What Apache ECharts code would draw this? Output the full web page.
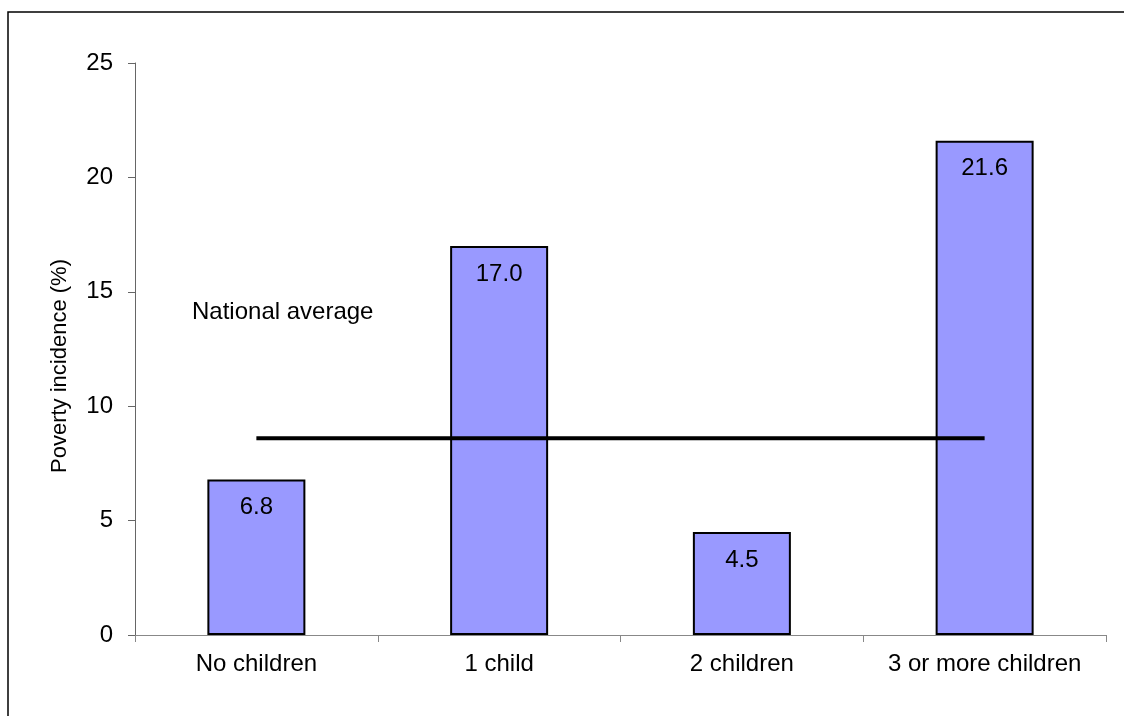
<!DOCTYPE html>
<html>
<head>
<meta charset="utf-8">
<script src="https://cdn.jsdelivr.net/npm/echarts@6/dist/echarts.min.js"></script>
<style>
  html, body { margin: 0; padding: 0; background: #fff; }
  #chart { width: 1124px; height: 716px; }
</style>
</head>
<body>
<div id="chart"></div>
<script>
const categories = ['No children', '1 child', '2 children', '3 or more children'];
const incidence = [6.8, 17.0, 4.5, 21.6];
const nationalAvg = [8.6, 8.6, 8.6, 8.6];
const yTicks = [0, 5, 10, 15, 20, 25];

const font = 'Liberation Sans, Arial, sans-serif';
const chart = echarts.init(document.getElementById('chart'));

const option = {
    backgroundColor: '#fff',
    animation: false,
    textStyle: { fontFamily: font },
    grid: { left: 135, right: 18, top: 63, bottom: 81 },
    graphic: [
        {
            type: 'rect',
            shape: { x: 8, y: 12, width: 1300, height: 900 },
            style: { fill: null, stroke: '#000', lineWidth: 1.5 },
            silent: true
        },
        {
            type: 'text',
            x: 192, y: 312,
            style: { text: 'National average', fontSize: 24, fill: '#000', fontFamily: font,
                     textAlign: 'left', textVerticalAlign: 'middle' }
        },
        {
            // y axis title
            type: 'text',
            x: 60, y: 366,
            rotation: Math.PI / 2,
            style: { text: 'Poverty incidence (%)', fontSize: 22, fill: '#000', fontFamily: font,
                     textAlign: 'center', textVerticalAlign: 'middle' }
        }
    ],
    xAxis: {
        type: 'category',
        data: categories,
        axisLine: { lineStyle: { color: '#888', width: 1 } },
        axisTick: { show: true, interval: 0, length: 7, lineStyle: { color: '#888' } },
        axisLabel: { color: '#000', fontSize: 24, margin: 17, interval: 0 },
        splitLine: { show: false }
    },
    yAxis: {
        type: 'value',
        min: yTicks[0],
        max: yTicks[yTicks.length - 1],
        interval: 5,
        axisLine: { show: true, lineStyle: { color: '#666', width: 1 } },
        axisTick: { show: true, length: 7, lineStyle: { color: '#666' } },
        axisLabel: { color: '#000', fontSize: 24, margin: 22 },
        splitLine: { show: false }
    },
    series: [
        {
            name: 'Poverty incidence',
            type: 'bar',
            data: incidence,
            barWidth: 98,
            itemStyle: { color: '#9999FF', borderColor: '#000', borderWidth: 2 },
            label: {
                show: true,
                position: 'insideTop',
                distance: 16,
                color: '#000',
                fontSize: 24,
                formatter: p => p.value.toFixed(1)
            },
            z: 2
        },
        {
            name: 'National average',
            type: 'line',
            data: nationalAvg,
            symbol: 'none',
            lineStyle: { color: '#000', width: 4 },
            z: 3
        }
    ]
};

chart.setOption(option);
</script>
</body>
</html>
